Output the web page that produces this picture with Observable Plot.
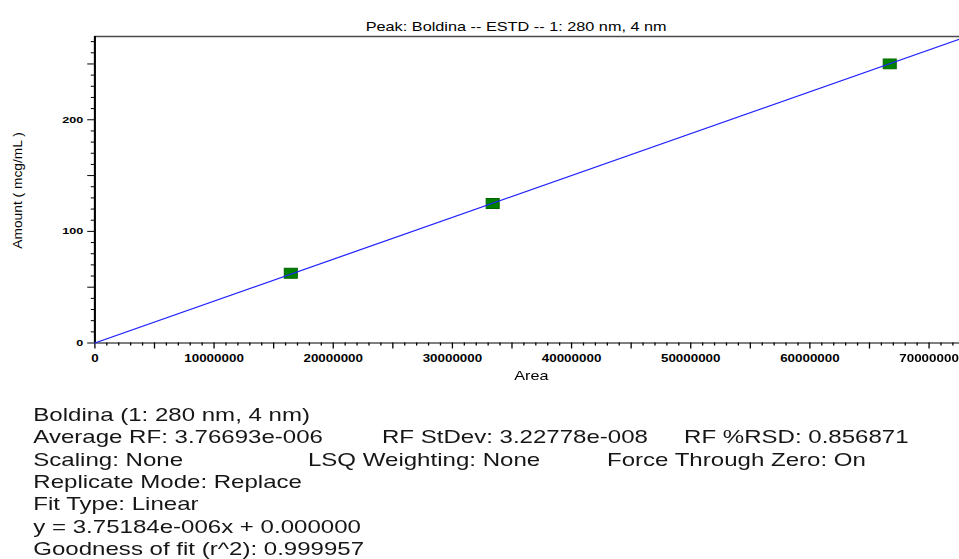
<!DOCTYPE html>
<html><head><meta charset="utf-8">
<script src="https://cdn.jsdelivr.net/npm/d3@7"></script>
<script src="https://cdn.jsdelivr.net/npm/@observablehq/plot@0.6"></script>
<style>
html,body{margin:0;padding:0;background:#fff;overflow:hidden;width:959px;height:559px}
#stage{position:absolute;left:0;top:0;width:738px;height:559px;transform:scaleX(1.3);transform-origin:0 0;font-family:"Liberation Sans",Arial,sans-serif}
#chart{position:absolute;left:0;top:0}
#chart svg{display:block;overflow:visible}
#info{position:absolute;left:0;top:404.1px;width:738px;font-size:18.5px;line-height:22.33px;color:#161616;white-space:pre}
#info .ln{position:relative;height:22.33px}
#info span{position:absolute;top:0}
</style></head><body>
<div id="stage"><div id="chart"></div><div id="info"></div></div>
<script>
// ---- data ----
const areas = [16440000, 33380000, 66700000];
const amounts = [62.5, 125, 250];
const fitSlope = 3.75184e-6;
const xDomain = [0, 72600000];
const yDomain = [0, 274.6];
const xMajorTicks = [0, 10000000, 20000000, 30000000, 40000000, 50000000, 60000000, 70000000];
const xTickLabels = ["0", "10000000", "20000000", "30000000", "40000000", "50000000", "60000000", "70000000"];
const xMidTicks = [5000000, 15000000, 25000000, 35000000, 45000000, 55000000, 65000000];
const xMinorTicks = d3.range(1000000, 72600000, 1000000).filter(v => v % 5000000 !== 0);
const yMajorTicks = [0, 100, 200];
const yTickLabels = ["0", "100", "200"];
const yMidTicks = [50, 150, 250];
const yMinorTicks = d3.range(10, 275, 10).filter(v => v % 50 !== 0);
const titleText = "Peak: Boldina -- ESTD -- 1: 280 nm, 4 nm";
const xLabel = "Area";
const yLabel = "Amount ( mcg/mL )";
const infoCol1 = ["Boldina (1: 280 nm, 4 nm)", "Average RF: 3.76693e-006", "Scaling: None", "Replicate Mode: Replace", "Fit Type: Linear", "y = 3.75184e-006x + 0.000000", "Goodness of fit (r^2): 0.999957"];
const infoCol2 = ["", "RF StDev: 3.22778e-008", "LSQ Weighting: None", "", "", "", ""];
const infoCol3 = ["", "RF %RSD: 0.856871", "Force Through Zero: On", "", "", "", ""];

const points = areas.map((a, i) => ({area: a, amount: amounts[i]}));
const fit = xDomain.map(x => ({area: x, amount: fitSlope * x}));

const chart = Plot.plot({
  width: 738, height: 395,
  marginLeft: 72.5, marginRight: 0, marginTop: 36, marginBottom: 52.5,
  x: {domain: xDomain},
  y: {domain: yDomain},
  style: {fontFamily: "'Liberation Sans', Arial, sans-serif", color: "#000", background: "#fff", overflow: "visible"},
  marks: [
    Plot.ruleY([yDomain[1]], {stroke: "#4a4a4a", strokeWidth: 1.5}),
    Plot.axisY(yMinorTicks, {tickSize: 2.7, text: null, label: null}),
    Plot.axisY(yMidTicks, {tickSize: 5.4, text: null, label: null}),
    Plot.axisY(yMajorTicks, {tickSize: 5.4, tickPadding: 3.5, fontSize: 9.7, fontWeight: "bold", tickFormat: d => yTickLabels[yMajorTicks.indexOf(d)], label: null}),
    Plot.axisX(xMinorTicks, {tickSize: 3, text: null, label: null}),
    Plot.axisX(xMidTicks, {tickSize: 6, text: null, label: null}),
    Plot.axisX(xMajorTicks, {tickSize: 6, tickPadding: 5.3, fontSize: 10.3, fontWeight: "bold", tickFormat: d => xTickLabels[xMajorTicks.indexOf(d)], label: null}),
    Plot.ruleX([0], {stroke: "#000", strokeWidth: 1.6}),
    Plot.ruleY([0], {stroke: "#000", strokeWidth: 1.2}),
    Plot.dot(points, {x: "area", y: "amount", symbol: "square", r: 5.64, fill: "#008000", stroke: "#006400", strokeWidth: 0.8}),
    Plot.line(fit, {x: "area", y: "amount", stroke: "#2222ff", strokeWidth: 1.2}),
    Plot.text([titleText], {frameAnchor: "top", textAnchor: "start", dy: -15, dx: 280.8 - 405.25, fontSize: 13, fill: "#000"}),
    Plot.text([xLabel], {frameAnchor: "bottom", dy: 37, dx: 3, fontSize: 12.5, fill: "#000"}),
    Plot.text([yLabel], {frameAnchor: "left", textAnchor: "start", dx: 13.5 - 72.5, dy: 248.3 - 189.25, rotate: -90, fontSize: 10, fill: "#000"})
  ]
});
document.getElementById("chart").appendChild(chart);

d3.select(chart).selectAll("text").each(function() {
  const t = this.textContent;
  if (t === titleText) { this.setAttribute("textLength", 231.5); this.setAttribute("lengthAdjust", "spacingAndGlyphs"); }
  if (t === yLabel) { this.setAttribute("textLength", 116.7); this.setAttribute("lengthAdjust", "spacingAndGlyphs"); }
});

const colX = [25.6, 293.8, 526.2];
const colX3 = [25.6, 236.9, 466.9];
const info = document.getElementById("info");
infoCol1.forEach((s, i) => {
  const ln = document.createElement("div");
  ln.className = "ln";
  const xs = i === 2 ? colX3 : colX;
  [infoCol1[i], infoCol2[i], infoCol3[i]].forEach((txt, j) => {
    if (!txt) return;
    const sp = document.createElement("span");
    sp.style.left = xs[j] + "px";
    sp.textContent = txt;
    ln.appendChild(sp);
  });
  info.appendChild(ln);
});
</script>
</body></html>
